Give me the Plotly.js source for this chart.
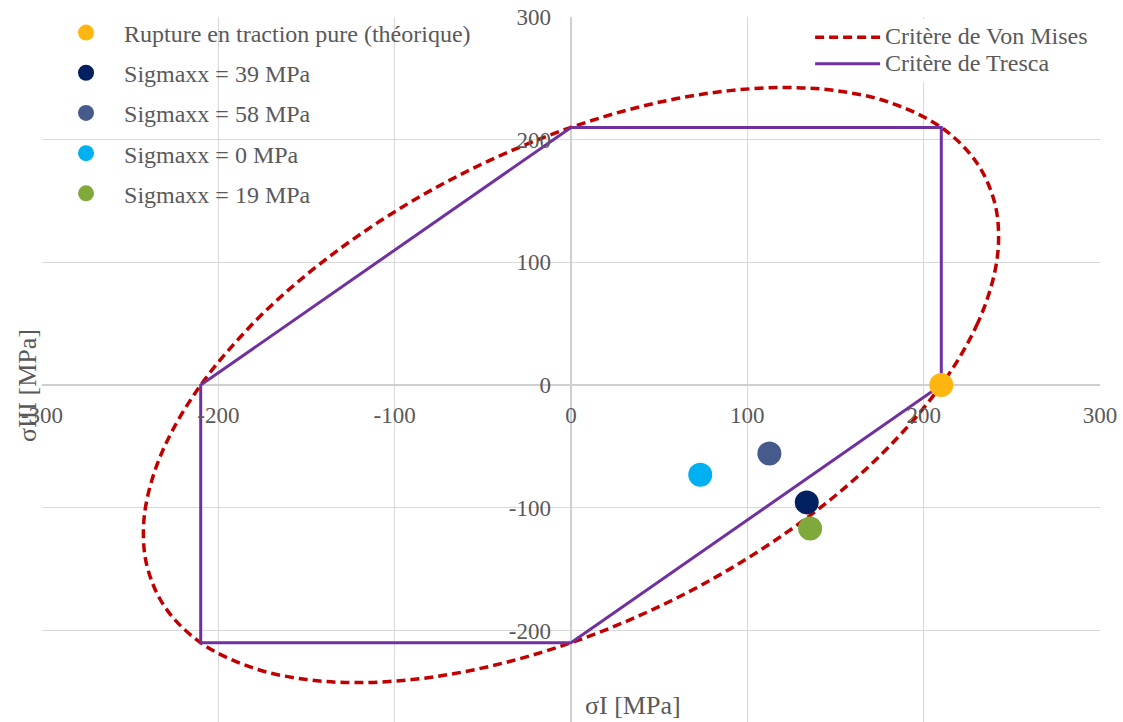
<!DOCTYPE html>
<html>
<head>
<meta charset="utf-8">
<script src="https://cdn.plot.ly/plotly-3.0.1.min.js"></script>
<style>
  html, body { margin: 0; padding: 0; background: #ffffff; }
  #chart { width: 1123px; height: 722px; }
</style>
</head>
<body>
<div id="chart"></div>
<script>
// Principal stresses σI / σIII (MPa) of the tested states
const pointNames = [
  'Rupture en traction pure (théorique)',
  'Sigmaxx = 39 MPa',
  'Sigmaxx = 58 MPa',
  'Sigmaxx = 0 MPa',
  'Sigmaxx = 19 MPa'
];
const pointSigmaI   = [210, 133.7, 112.5, 73.3, 135.6];
const pointSigmaIII = [0, -95.6, -55.7, -73.1, -116.8];
const pointColors   = ['#FFB610', '#022060', '#475A8C', '#00B0F0', '#7FA93A'];

// Von Mises yield ellipse (σy = 210 MPa), closed contour
const vonMisesX = [210, 230, 240, 242.5, 240, 230, 210, 180, 150, 121.2, 90, 60, 30, 0,
  -30, -60, -90, -121.2, -150, -180, -210, -230, -240, -242.5, -240, -230, -210, -180,
  -150, -121.2, -90, -60, -30, 0, 30, 60, 90, 121.2, 150, 180, 210];
const vonMisesY = [0, 48.5, 90, 121.2, 150, 181.5, 210, 230.7, 240, 242.5, 240, 233.5, 223.4, 210,
  193.4, 173.5, 150, 121.2, 90, 50.7, 0, -48.5, -90, -121.2, -150, -181.5, -210, -230.7,
  -240, -242.5, -240, -233.5, -223.4, -210, -193.4, -173.5, -150, -121.2, -90, -50.7, 0];

// Tresca hexagon
const trescaX = [0, 210, 210, 0, -210, -210, 0];
const trescaY = [210, 210, 0, -210, -210, 0, 210];

// Criterion names
const criterionNames = ['Critère de Von Mises', 'Critère de Tresca'];

// Axis ticks
const xTickVals = [-300, -200, -100, 0, 100, 200, 300];
const xTickText = ['-300', '-200', '-100', '0', '100', '200', '300'];
const yTickVals = [-200, -100, 0, 100, 200, 300];
const yTickText = ['-200', '-100', '0', '100', '200', '300'];

const X_RANGE = [-300, 300];
const Y_RANGE = [-274.6, 300];

const FONT = 'Liberation Serif, Times New Roman, serif';
const TEXT_COLOR = '#595959';
const GRID_COLOR = '#D9D9D9';

// Larger glyphs on a compact row pitch for the criteria legend
const bigLabel = s => '<span style="font-size:24px">' + s + '</span>';

const traces = [
  {
    type: 'scatter', mode: 'lines', name: bigLabel(criterionNames[0]),
    x: vonMisesX, y: vonMisesY, legend: 'legend2',
    line: { color: '#C00000', width: 3.5, dash: '9px,5px', shape: 'spline', smoothing: 1 },
    hoverinfo: 'skip'
  },
  {
    type: 'scatter', mode: 'lines', name: bigLabel(criterionNames[1]),
    x: trescaX, y: trescaY, legend: 'legend2',
    line: { color: '#7030A0', width: 3 },
    hoverinfo: 'skip'
  }
];

pointNames.forEach((name, i) => {
  traces.push({
    type: 'scatter', mode: 'markers', name: name,
    x: [pointSigmaI[i]], y: [pointSigmaIII[i]],
    legend: 'legend', legendgroup: 'g' + i,
    marker: { color: pointColors[i], size: 24 }
  });
});

// Axes cross at the origin
const xAxisPos = (0 - Y_RANGE[0]) / (Y_RANGE[1] - Y_RANGE[0]);
const yAxisPos = (0 - X_RANGE[0]) / (X_RANGE[1] - X_RANGE[0]);

// White panels behind the point legend (stepped: long first rows, short lower rows)
const legendPanel = (x0, x1, y0, y1) => ({
  type: 'rect', xref: 'paper', yref: 'paper', x0, x1, y0, y1,
  fillcolor: '#ffffff', line: { width: 0 }, layer: 'between'
});

const layout = {
  width: 1123, height: 722,
  margin: { l: 42, r: 23, t: 17, b: 0, pad: 0 },
  paper_bgcolor: '#ffffff', plot_bgcolor: '#ffffff',
  font: { family: FONT, color: TEXT_COLOR, size: 22 },
  showlegend: true,
  xaxis: {
    range: X_RANGE, domain: [0, 1], anchor: 'free', position: xAxisPos,
    tickmode: 'array', tickvals: xTickVals, ticktext: xTickText,
    showgrid: true, gridcolor: GRID_COLOR, gridwidth: 1,
    zeroline: true, zerolinecolor: '#CFCFCF', zerolinewidth: 1.5,
    showline: false, ticks: '', ticklabelstandoff: 14,
    tickfont: { family: FONT, size: 23, color: TEXT_COLOR },
    fixedrange: true
  },
  yaxis: {
    range: Y_RANGE, domain: [0, 1], anchor: 'free', position: yAxisPos,
    tickmode: 'array', tickvals: yTickVals, ticktext: yTickText,
    showgrid: true, gridcolor: GRID_COLOR, gridwidth: 1,
    zeroline: true, zerolinecolor: '#CFCFCF', zerolinewidth: 1.5,
    showline: false, ticks: '', ticklabelstandoff: 20,
    tickfont: { family: FONT, size: 23, color: TEXT_COLOR },
    fixedrange: true
  },
  legend: {
    x: 0.0057, y: 1.0093, xanchor: 'left', yanchor: 'top',
    bgcolor: 'rgba(255,255,255,0)', borderwidth: 0,
    font: { family: FONT, size: 24, color: TEXT_COLOR },
    itemwidth: 66, tracegroupgap: 6, traceorder: 'grouped'
  },
  legend2: {
    x: 0.726, y: 0.997, xanchor: 'left', yanchor: 'top',
    bgcolor: '#ffffff', borderwidth: 0,
    font: { family: FONT, size: 18, color: TEXT_COLOR },
    itemwidth: 65, traceorder: 'normal'
  },
  shapes: [
    legendPanel(0.0227, 0.4234, 0.8411, 1.0),
    legendPanel(0.0227, 0.2524, 0.7333, 0.8411)
  ],
  annotations: [
    {
      text: 'σI [MPa]', xref: 'paper', yref: 'paper', x: 0.5586, y: 0.024,
      xanchor: 'center', yanchor: 'middle', showarrow: false,
      font: { family: FONT, size: 26, color: TEXT_COLOR }
    },
    {
      text: 'σIII [MPa]', xref: 'paper', yref: 'paper', x: -0.0142, y: 0.478,
      xanchor: 'center', yanchor: 'middle', showarrow: false, textangle: -90,
      font: { family: FONT, size: 26, color: TEXT_COLOR }
    }
  ]
};

Plotly.newPlot('chart', traces, layout, { displayModeBar: false, staticPlot: true });
</script>
</body>
</html>
